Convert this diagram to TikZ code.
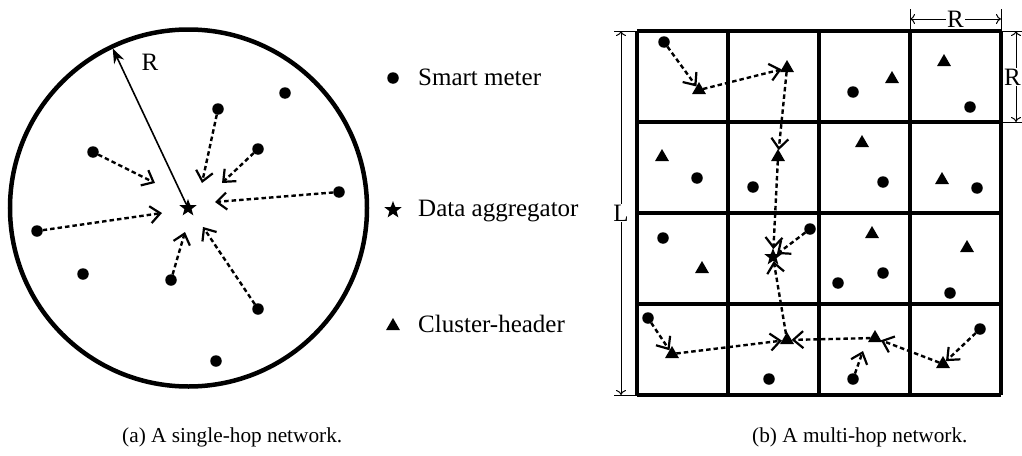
\documentclass[tikz,border=0pt]{standalone}
\usepackage{fontspec}
\setmainfont{Liberation Serif}
\usetikzlibrary{arrows.meta,shapes.geometric}
\begin{document}
\begin{tikzpicture}[x=1pt,y=-1pt,
  dot/.style={circle,fill,inner sep=0pt,outer sep=0pt,minimum size=11.5pt},
  tri/.style={regular polygon,regular polygon sides=3,fill,inner sep=0pt,outer sep=0pt,minimum size=16pt},
  agg/.style={star,star points=5,star point ratio=2.4,fill,inner sep=0pt,outer sep=0pt,minimum size=18pt},
  link/.style={dash pattern=on 4.5pt off 3pt,line width=2.4pt,-{Straight Barb[length=10pt,width=17pt,line width=2.2pt]}},
  big/.style={font=\fontsize{25}{30}\selectfont,inner sep=0pt},
  capt/.style={font=\fontsize{21.3}{25}\selectfont,inner sep=0pt,anchor=base west},
  dimline/.style={line width=1pt,{To[length=5pt,width=10pt]}-{To[length=5pt,width=10pt]}},
  ext/.style={line width=1pt},
  gridline/.style={line width=3.8pt}]
\useasboundingbox (0,0) rectangle (1022,455);

% ---------- (a) single-hop ----------
\draw[line width=4.5pt] (188.5,208) circle[radius=178.5pt];
\node[agg] (A) at (188,208) {};
\coordinate (Rend) at (112.7,48.3);
\draw[line width=1.6pt,-{Stealth[length=15pt,width=11pt]}] (A) -- (Rend);
\node[big] (Ra) at (150,62) {R};

\node[dot] (c1) at (285,93) {};
\node[dot] (c2) at (218,109) {};
\node[dot] (c3) at (93,152) {};
\node[dot] (c4) at (258,149) {};
\node[dot] (c5) at (339,192) {};
\node[dot] (c6) at (37,231) {};
\node[dot] (c7) at (83,274) {};
\node[dot] (c8) at (171,280) {};
\node[dot] (c9) at (258,309) {};
\node[dot] (c10) at (216,361) {};

\coordinate (t3) at (155,183);
\coordinate (t2) at (202,183);
\coordinate (t4) at (222,183);
\coordinate (t5) at (215,202);
\coordinate (t6) at (162,213);
\coordinate (t8) at (185,232);
\coordinate (t9) at (203,227);
\draw[link] (c3) -- (t3);
\draw[link] (c2) -- (t2);
\draw[link] (c4) -- (t4);
\draw[link] (c5) -- (t5);
\draw[link] (c6) -- (t6);
\draw[link] (c8) -- (t8);
\draw[link] (c9) -- (t9);

% ---------- legend ----------
\node[dot] (l1) at (393,78) {};
\node[big,anchor=base west] (l1t) at (418,85) {Smart meter};
\node[agg] (l2) at (393,210) {};
\node[big,anchor=base west] (l2t) at (418,216.7) {Data aggregator};
\node[tri] (l3) at (393,326) {};
\node[big,anchor=base west] (l3t) at (418,332.7) {Cluster-header};

% ---------- (b) multi-hop grid ----------
\foreach \i in {0,...,4} {
  \draw[gridline] (637+91*\i,31) -- (637+91*\i,395);
  \draw[gridline] (637,31+91*\i) -- (1001,31+91*\i);
}

% dimension L
\draw[ext] (614,31) -- (637,31);
\draw[ext] (614,395) -- (637,395);
\coordinate (Lt) at (621,31);
\coordinate (Lb) at (621,395);
\draw[dimline] (Lt) -- (Lb);
\node[big,fill=white,inner sep=1pt] (L) at (621,213) {L};

% dimension R (top)
\draw[ext] (910,9) -- (910,31);
\draw[ext] (1001,9) -- (1001,31);
\coordinate (Ra1) at (910,19);
\coordinate (Ra2) at (1001,19);
\draw[dimline] (Ra1) -- (Ra2);
\node[big,fill=white,inner sep=1pt] (Rt) at (955.5,19) {R};

% dimension R (right)
\draw[ext] (1001,31) -- (1024,31);
\draw[ext] (1001,122) -- (1024,122);
\coordinate (Rb1) at (1016,31);
\coordinate (Rb2) at (1016,122);
\draw[dimline] (Rb1) -- (Rb2);
\node[big,fill=white,inner sep=0.5pt] (Rr) at (1012.5,77) {R};

% row 1
\node[dot] (m1) at (664,42) {};
\node[tri] (h1) at (699,90) {};
\node[tri] (h2) at (787,68) {};
\node[dot] (m2) at (853,92) {};
\node[tri] (h3) at (892,79) {};
\node[tri] (h4) at (944,62) {};
\node[dot] (m3) at (970,107) {};
% row 2
\node[tri] (h5) at (662,157) {};
\node[dot] (m4) at (697,178) {};
\node[tri] (h6) at (778,157) {};
\node[dot] (m5) at (753,187) {};
\node[tri] (h7) at (862,143) {};
\node[dot] (m6) at (883,182) {};
\node[tri] (h8) at (942,180) {};
\node[dot] (m7) at (977,188) {};
% row 3
\node[dot] (m8) at (663,238) {};
\node[tri] (h9) at (702,269) {};
\node[agg] (S) at (773,257) {};
\node[dot] (m9) at (810,229) {};
\node[tri] (h10) at (872,234) {};
\node[dot] (m10) at (838,283) {};
\node[dot] (m11) at (883,273) {};
\node[tri] (h11) at (967,248) {};
\node[dot] (m12) at (950,293) {};
% row 4
\node[dot] (m13) at (648,318) {};
\node[tri] (h12) at (672,354) {};
\node[tri] (h13) at (787,340) {};
\node[dot] (m14) at (769,379) {};
\node[tri] (h14) at (875,338) {};
\node[dot] (m15) at (853,379) {};
\node[tri] (h15) at (943,364) {};
\node[dot] (m16) at (980,329) {};
\coordinate (t15) at (863,351);

\draw[link] (m1) -- (h1);
\draw[link] (h1) -- (h2);
\draw[link] (h2) -- (h6);
\draw[link] (h6) -- (S);
\draw[link] (m9) -- (S);
\draw[link] (h13) -- (S);
\draw[link] (m13) -- (h12);
\draw[link] (h12) -- (h13);
\draw[link] (h14) -- (h13);
\draw[link] (m15) -- (t15);
\draw[link] (h15) -- (h14);
\draw[link] (m16) -- (h15);

% captions
\node[capt] (ca) at (122,442) {(a) A single-hop network.};
\node[capt] (cb) at (752,442) {(b) A multi-hop network.};
\end{tikzpicture}
\end{document}
